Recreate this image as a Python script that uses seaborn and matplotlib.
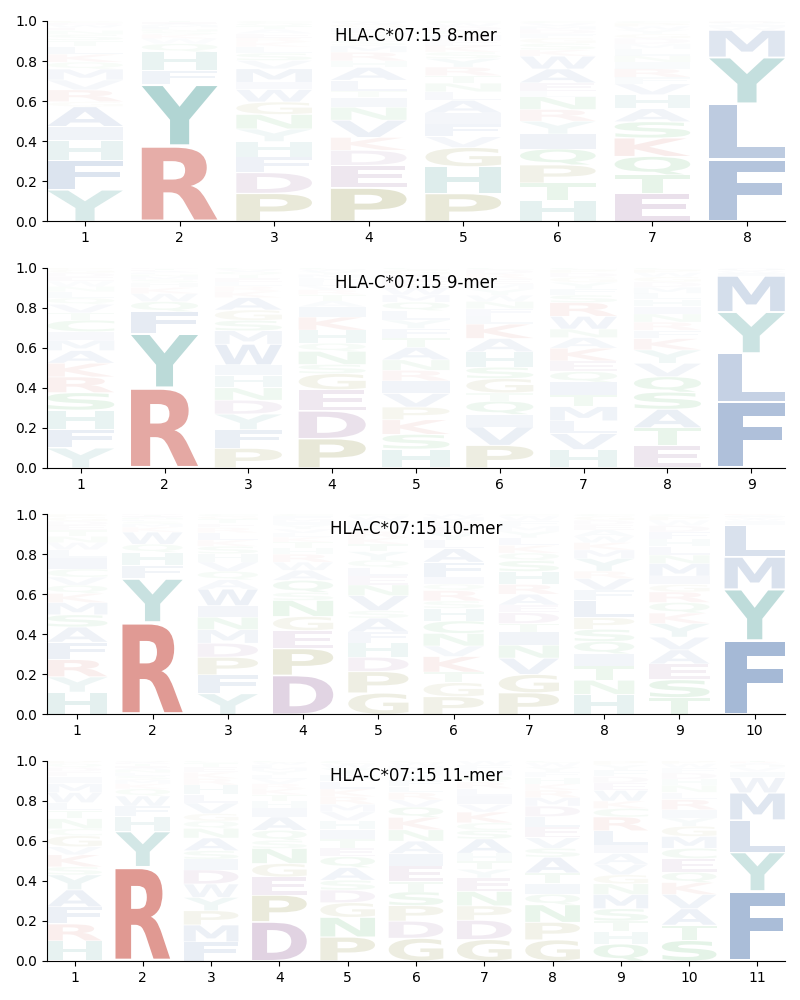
import numpy as np
import matplotlib
matplotlib.use("Agg")
import matplotlib.pyplot as plt
import seaborn as sns
from matplotlib.textpath import TextPath
from matplotlib.patches import PathPatch
from matplotlib.font_manager import FontProperties
from matplotlib.transforms import Affine2D

# ---------------- data (stack order bottom -> top) ----------------
mer8_letters = [
    "YFHIAGRVMQKLTSNEWDCP",
    "RYFHQWKSNLMAET",
    "PDFHYNGWIMVSLKREATQC",
    "PEDKVNITLAHRMSYQFGWC",
    "PHGVFIALNTRYSKEMQDWC",
    "HTPQIYRNLEAWKSGFDMVC",
    "ETQKSAHVFRINLMDGYWPC",
    "FLYMWIVHRA",
]
mer8_probs = [
    [.16, .15, .10, .07, .10, .025, .06, .05, .055, .035, .04, .04, .03, .03, .02, .015, .013, .01, .005, .005],
    [.37, .30, .07, .09, .04, .025, .02, .015, .01, .01, .01, .008, .007, .006],
    [.135, .10, .075, .075, .06, .07, .06, .06, .035, .065, .04, .035, .03, .025, .02, .02, .02, .015, .015, .01],
    [.155, .105, .07, .06, .08, .06, .045, .03, .05, .06, .03, .04, .03, .025, .02, .02, .02, .015, .01, .005],
    [.13, .125, .09, .05, .06, .05, .06, .04, .04, .035, .04, .04, .03, .03, .025, .025, .02, .02, .015, .01],
    [.10, .08, .085, .075, .07, .06, .055, .06, .025, .04, .065, .06, .03, .03, .025, .02, .02, .015, .015, .01],
    [.13, .085, .085, .085, .075, .06, .065, .05, .03, .04, .03, .03, .03, .025, .025, .02, .02, .015, .015, .01],
    [.31, .275, .23, .135, .015, .01, .008, .005, .004, .003],
]

mer9_letters = [
    "YFHSRKAMICTVQLNWEDGP",
    "RYFQWKHSMNLAETD",
    "PFYDNHIWMSGAKRLETQVC",
    "PDEGSNQHKIATRVLFMYWC",
    "HSKPVIRNATFYLQMWEDGC",
    "PVIQTGSHAKLFNWYMERDC",
    "HVLMTIQEKANWRSFYGDPC",
    "ETASQVYKFRNIHLMDGWPC",
    "FLYMIWVHA",
]
mer9_probs = [
    [.095, .09, .09, .083, .075, .065, .06, .05, .04, .055, .035, .04, .03, .03, .025, .025, .02, .02, .015, .01],
    [.40, .27, .11, .05, .04, .03, .025, .015, .015, .01, .01, .008, .007, .005, .005],
    [.095, .09, .075, .067, .06, .06, .05, .10, .065, .05, .05, .06, .03, .025, .02, .02, .015, .015, .01, .01],
    [.145, .137, .105, .08, .045, .065, .04, .065, .065, .05, .03, .03, .025, .02, .02, .02, .015, .015, .01, .01],
    [.09, .07, .07, .06, .065, .06, .05, .05, .06, .045, .045, .04, .045, .04, .035, .035, .03, .03, .025, .01],
    [.11, .09, .06, .065, .04, .07, .055, .075, .065, .07, .04, .035, .035, .03, .03, .025, .025, .025, .02, .01],
    [.087, .075, .06, .067, .055, .06, .05, .05, .06, .05, .04, .06, .065, .035, .03, .03, .025, .02, .015, .01],
    [.11, .085, .09, .083, .075, .065, .065, .055, .04, .04, .04, .035, .035, .03, .03, .025, .025, .02, .015, .01],
    [.32, .235, .20, .175, .012, .01, .008, .005, .005],
]

mer10_letters = [
    "HYRFASMKQVCILWNTEDGP",
    "RYFHQWKMSLNAETD",
    "YFPDMNIWAQVHSKLRETGC",
    "DPEGNSQAWRHTKLVYIMFC",
    "GPDHFASVNELQYTKRMIWC",
    "PGTKVNCHSRQIFALYEDMW",
    "PGVNITDEARHSQKLYMFWC",
    "HNTIQSPLFVRYMKWAEDGC",
    "TSEAVYKQRGIMNLHFDWPC",
    "FYMLIWVHAR",
]
mer10_probs = [
    [.11, .075, .085, .085, .075, .06, .06, .045, .04, .04, .04, .055, .04, .035, .03, .03, .025, .02, .02, .015],
    [.455, .215, .065, .065, .04, .06, .025, .015, .012, .01, .008, .006, .005, .004, .004],
    [.10, .09, .085, .067, .065, .06, .055, .08, .045, .04, .045, .04, .035, .03, .035, .025, .02, .02, .015, .01],
    [.195, .133, .09, .07, .08, .04, .06, .05, .04, .04, .03, .03, .025, .02, .02, .02, .015, .015, .015, .01],
    [.10, .10, .067, .067, .05, .065, .035, .07, .05, .04, .04, .035, .04, .035, .03, .03, .025, .025, .02, .01],
    [.085, .067, .05, .075, .05, .06, .06, .06, .035, .05, .03, .035, .07, .065, .04, .035, .03, .025, .02, .015],
    [.10, .085, .075, .06, .06, .04, .05, .035, .05, .045, .06, .05, .035, .035, .035, .03, .025, .025, .02, .01],
    [.095, .067, .067, .058, .058, .058, .055, .08, .05, .055, .035, .06, .04, .035, .03, .03, .025, .02, .02, .01],
    [.08, .085, .075, .067, .06, .065, .05, .05, .05, .035, .04, .06, .04, .04, .035, .035, .03, .025, .02, .01],
    [.367, .255, .16, .16, .02, .01, .008, .005, .005, .005],
]

mer11_letters = [
    "HRFAYSKVGCNTLWMIEDQP",
    "RYHFWQKMSLNAETDVG",
    "FMPYWDISANQGVLHRKETC",
    "DPEGNSQAIHTKRVLYMFWC",
    "PNGDSAQETIHVMRKLFYWC",
    "GDPSTEIANKQVRLFYHMWC",
    "GDPNEYTHASCKVILRQMFW",
    "GPNQITASVELDMRKHFYWC",
    "QHTSMNGVAILRCKWEDFYP",
    "STAVKQECMGYIRLNHDFWP",
    "FYLMWIVHART",
]
mer11_probs = [
    [.10, .085, .085, .085, .075, .04, .06, .04, .055, .035, .05, .04, .04, .05, .045, .035, .025, .02, .02, .015],
    [.465, .175, .075, .05, .05, .035, .025, .02, .02, .015, .015, .01, .01, .008, .007, .005, .005],
    [.09, .08, .067, .063, .063, .067, .05, .04, .06, .045, .035, .035, .05, .04, .045, .03, .03, .025, .02, .01],
    [.195, .133, .09, .067, .075, .04, .05, .067, .045, .035, .03, .03, .025, .025, .02, .02, .015, .015, .01, .01],
    [.11, .09, .067, .058, .045, .058, .05, .04, .04, .045, .04, .04, .035, .035, .035, .035, .03, .03, .02, .015],
    [.11, .083, .075, .067, .05, .075, .06, .06, .055, .06, .05, .035, .035, .03, .03, .025, .025, .02, .015, .01],
    [.10, .09, .067, .067, .063, .04, .04, .035, .067, .04, .035, .05, .035, .04, .035, .03, .03, .025, .025, .02],
    [.10, .083, .083, .05, .05, .05, .075, .042, .05, .05, .05, .05, .04, .035, .03, .03, .025, .025, .02, .01],
    [.08, .058, .05, .058, .067, .05, .042, .05, .05, .04, .067, .065, .04, .035, .05, .035, .03, .03, .025, .02],
    [.10, .075, .08, .07, .058, .05, .067, .05, .058, .05, .04, .04, .05, .035, .035, .03, .03, .025, .02, .015],
    [.342, .19, .158, .133, .075, .03, .02, .01, .01, .008, .005],
]

titles = ["HLA-C*07:15 8-mer", "HLA-C*07:15 9-mer",
          "HLA-C*07:15 10-mer", "HLA-C*07:15 11-mer"]

# residue colour groups
group_colors = {
    "AVLIMFW": (70, 110, 170),
    "RK": (205, 90, 80),
    "YH": (60, 150, 145),
    "PG": (130, 130, 40),
    "DE": (136, 82, 143),
    "NQSTC": (40, 160, 60),
}
aa_color = {}
for aas, rgb in group_colors.items():
    for a in aas:
        aa_color[a] = tuple(c / 255 for c in rgb)

# ---------------- drawing ----------------
fp = FontProperties(family="DejaVu Sans", weight="bold")
_glyphs = {}


def glyph(ch):
    if ch not in _glyphs:
        tp = TextPath((0, 0), ch, size=1, prop=fp)
        _glyphs[ch] = (tp, tp.get_extents())
    return _glyphs[ch]


def draw_letter(ax, ch, x, y0, h, width=0.8, vpad=0.05):
    tp, bb = glyph(ch)
    hh = h * (1 - vpad)
    tr = (Affine2D().translate(-bb.x0, -bb.y0)
          .scale(width / bb.width, hh / bb.height)
          .translate(x - width / 2, y0 + h * vpad / 2))
    path = tr.transform_path(tp)
    alpha = float(np.clip(1.35 * h - 0.015, 0.02, 1.0))
    ax.add_patch(PathPatch(path, facecolor=aa_color[ch], edgecolor="none",
                           alpha=alpha, lw=0))


panels = [(mer8_letters, mer8_probs), (mer9_letters, mer9_probs),
          (mer10_letters, mer10_probs), (mer11_letters, mer11_probs)]

fig, axes = plt.subplots(4, 1, figsize=(8, 10), dpi=100)
fig.subplots_adjust(left=0.059, right=0.981, top=0.979, bottom=0.039, hspace=0.23)

for ax, (letters, probs), title in zip(axes, panels, titles):
    L = len(letters)
    for i, (lets, ps) in enumerate(zip(letters, probs)):
        ps = np.asarray(ps, dtype=float)
        ps = ps / ps.sum()
        y = 0.0
        for ch, p in zip(lets, ps):
            draw_letter(ax, ch, i + 1, y, p)
            y += p
    ax.set_xlim(0.6, L + 0.4)
    ax.set_ylim(0, 1)
    ax.set_xticks(range(1, L + 1))
    ax.set_yticks([0, 0.2, 0.4, 0.6, 0.8, 1.0])
    ax.text(0.5, 0.925, title, transform=ax.transAxes, ha="center",
            va="center", fontsize=12)
    sns.despine(ax=ax)

fig.savefig("out.png", dpi=100)
